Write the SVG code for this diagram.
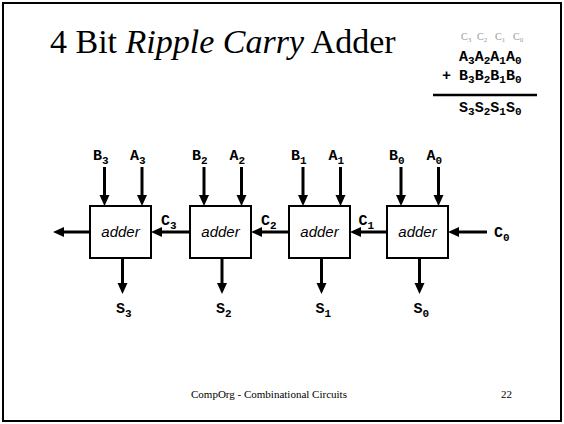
<svg xmlns="http://www.w3.org/2000/svg" width="564" height="424" viewBox="0 0 564 424">
<style>
.frame{fill:#fff;stroke:#000;stroke-width:2}
.box{fill:#fff;stroke:#000;stroke-width:2}
.wire{stroke:#000;stroke-width:3;fill:none;marker-end:url(#ah)}
.lbl{font-family:"Liberation Mono","Courier New",monospace;font-weight:bold;font-size:15px;fill:#000}
.sub{font-size:11px}
.adder{font-family:"Liberation Sans",Arial,sans-serif;font-style:italic;font-size:15px;fill:#000;text-anchor:middle}
.title{font-family:"Liberation Serif","Times New Roman",serif;font-size:34px;fill:#000}
.foot{font-family:"Liberation Serif","Times New Roman",serif;font-size:11px;fill:#000}
.cry{font-family:"Liberation Serif","Times New Roman",serif;font-size:10px;fill:#999}
.cry .s{font-size:7px}
</style>
<defs>
<marker id="ah" markerUnits="userSpaceOnUse" markerWidth="12" markerHeight="12" refX="2" refY="5" orient="auto">
<path d="M0,0 L11,5 L0,10 z" fill="#000"/>
</marker>
</defs>
<rect class="frame" x="3" y="3" width="558" height="418"/>
<text class="title" x="50" y="53">4 Bit <tspan font-style="italic">Ripple Carry</tspan> Adder</text>
<g id="sum-example">
<text class="cry" y="40"><tspan x="461">C</tspan><tspan class="s" dy="2">3</tspan><tspan x="477" dy="-2">C</tspan><tspan class="s" dy="2">2</tspan><tspan x="495" dy="-2">C</tspan><tspan class="s" dy="2">1</tspan><tspan x="513" dy="-2">C</tspan><tspan class="s" dy="2">0</tspan></text>
<text class="lbl" x="459" y="61">A<tspan class="sub" dy="3">3</tspan><tspan dy="-3">A</tspan><tspan class="sub" dy="3">2</tspan><tspan dy="-3">A</tspan><tspan class="sub" dy="3">1</tspan><tspan dy="-3">A</tspan><tspan class="sub" dy="3">0</tspan></text>
<text class="lbl" x="442" y="80">+</text>
<text class="lbl" x="459" y="80">B<tspan class="sub" dy="3">3</tspan><tspan dy="-3">B</tspan><tspan class="sub" dy="3">2</tspan><tspan dy="-3">B</tspan><tspan class="sub" dy="3">1</tspan><tspan dy="-3">B</tspan><tspan class="sub" dy="3">0</tspan></text>
<line x1="433" y1="95" x2="537" y2="95" stroke="#000" stroke-width="2.5"/>
<text class="lbl" x="459" y="112">S<tspan class="sub" dy="3">3</tspan><tspan dy="-3">S</tspan><tspan class="sub" dy="3">2</tspan><tspan dy="-3">S</tspan><tspan class="sub" dy="3">1</tspan><tspan dy="-3">S</tspan><tspan class="sub" dy="3">0</tspan></text>
</g>
<g id="adder3"><rect class="box" x="90" y="206" width="61" height="52"/><text class="adder" x="120.5" y="237">adder</text></g>
<g id="adder2"><rect class="box" x="190" y="206" width="61" height="52"/><text class="adder" x="220.5" y="237">adder</text></g>
<g id="adder1"><rect class="box" x="289" y="206" width="61" height="52"/><text class="adder" x="319.5" y="237">adder</text></g>
<g id="adder0"><rect class="box" x="387" y="206" width="61" height="52"/><text class="adder" x="417.5" y="237">adder</text></g>
<g id="connectors">
<line class="wire" x1="104.5" y1="167" x2="104.5" y2="197"/>
<line class="wire" x1="142" y1="167" x2="142" y2="197"/>
<line class="wire" x1="204" y1="167" x2="204" y2="197"/>
<line class="wire" x1="241.5" y1="167" x2="241.5" y2="197"/>
<line class="wire" x1="303" y1="167" x2="303" y2="197"/>
<line class="wire" x1="340.5" y1="167" x2="340.5" y2="197"/>
<line class="wire" x1="401" y1="167" x2="401" y2="197"/>
<line class="wire" x1="438.5" y1="167" x2="438.5" y2="197"/>
<line class="wire" x1="122.5" y1="258" x2="122.5" y2="285"/>
<line class="wire" x1="222" y1="258" x2="222" y2="285"/>
<line class="wire" x1="321.5" y1="258" x2="321.5" y2="285"/>
<line class="wire" x1="419.5" y1="258" x2="419.5" y2="285"/>
<line class="wire" x1="90" y1="232" x2="62" y2="232"/>
<line class="wire" x1="190" y1="232" x2="160" y2="232"/>
<line class="wire" x1="289" y1="232" x2="260" y2="232"/>
<line class="wire" x1="387" y1="232" x2="359" y2="232"/>
<line class="wire" x1="487" y1="232" x2="457" y2="232"/>
</g>
<g id="labels">
<text class="lbl" x="93" y="160">B<tspan class="sub" dy="4">3</tspan></text>
<text class="lbl" x="130" y="160">A<tspan class="sub" dy="4">3</tspan></text>
<text class="lbl" x="192" y="160">B<tspan class="sub" dy="4">2</tspan></text>
<text class="lbl" x="229.5" y="160">A<tspan class="sub" dy="4">2</tspan></text>
<text class="lbl" x="291" y="160">B<tspan class="sub" dy="4">1</tspan></text>
<text class="lbl" x="328.5" y="160">A<tspan class="sub" dy="4">1</tspan></text>
<text class="lbl" x="389" y="160">B<tspan class="sub" dy="4">0</tspan></text>
<text class="lbl" x="426.5" y="160">A<tspan class="sub" dy="4">0</tspan></text>
<text class="lbl" x="116" y="313">S<tspan class="sub" dy="4">3</tspan></text>
<text class="lbl" x="216" y="313">S<tspan class="sub" dy="4">2</tspan></text>
<text class="lbl" x="315.5" y="313">S<tspan class="sub" dy="4">1</tspan></text>
<text class="lbl" x="413.5" y="313">S<tspan class="sub" dy="4">0</tspan></text>
<text class="lbl" x="161" y="225">C<tspan class="sub" dy="4">3</tspan></text>
<text class="lbl" x="261" y="225">C<tspan class="sub" dy="4">2</tspan></text>
<text class="lbl" x="358.5" y="225">C<tspan class="sub" dy="4">1</tspan></text>
<text class="lbl" x="494" y="237">C<tspan class="sub" dy="4">0</tspan></text>
</g>
<text class="foot" x="191" y="398">CompOrg  - Combinational Circuits</text>
<text class="foot" x="501" y="398">22</text>
</svg>
